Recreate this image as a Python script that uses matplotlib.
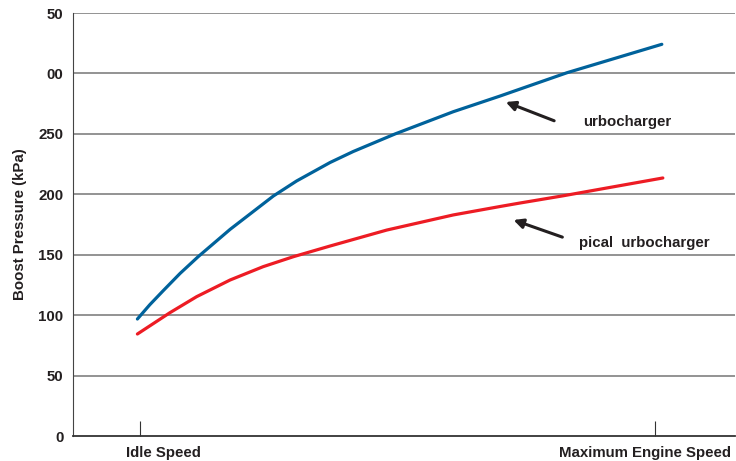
import numpy as np
import matplotlib.pyplot as plt
import matplotlib.transforms as mtransforms

plt.rcParams['font.family'] = ['Liberation Sans', 'DejaVu Sans']

# engine speed as fraction: 0 = idle, 1 = maximum engine speed
x_turbo = [-0.005, 0.019, 0.045, 0.078, 0.113, 0.175, 0.259, 0.304, 0.369, 0.414,
           0.495, 0.608, 0.699, 0.738, 0.829, 1.013]
y_turbo = [96.8, 108.6, 120.2, 134.6, 148.4, 171.0, 198.6, 211.0, 226.3, 235.4,
           249.9, 268.3, 281.3, 287.1, 300.6, 324.1]

x_typical = [-0.005, 0.058, 0.110, 0.175, 0.239, 0.298, 0.369, 0.479, 0.608, 0.699,
             0.738, 0.822, 1.015]
y_typical = [84.4, 102.0, 115.3, 129.1, 140.1, 148.4, 157.2, 170.4, 182.9, 189.9,
             192.8, 198.8, 213.5]

yticks = [0, 50, 100, 150, 200, 250, 300, 350]
ytick_labels = ['0', '50', '100', '150', '200', '250', '00', '50']
xticks = [0, 1]
xtick_labels = ['Idle Speed', 'Maximum Engine Speed']

txt = '#231f20'
fs = 10.8
fig = plt.figure(figsize=(7.36, 4.61), dpi=100)
ax = fig.add_axes([0.0992, 0.0542, 0.8994, 0.9176])

ax.set_xlim(-0.130, 1.155)
ax.set_ylim(0, 350)

# grid lines
for v in yticks[1:]:
    ax.axhline(v, color='#8a8a8a', lw=1.3, zorder=1)

ax.plot(x_turbo, y_turbo, color='#00629b', lw=2.3, solid_capstyle='round',
        solid_joinstyle='round', zorder=3)
ax.plot(x_typical, y_typical, color='#ed1c24', lw=2.3, solid_capstyle='round',
        solid_joinstyle='round', zorder=3)

# arrows and labels
ax.annotate('', xy=(0.705, 277.2), xytext=(0.809, 260.0),
            arrowprops=dict(arrowstyle='-|>', color=txt, lw=2.2, mutation_scale=14))
ax.annotate('', xy=(0.720, 179.5), xytext=(0.825, 163.8),
            arrowprops=dict(arrowstyle='-|>', color=txt, lw=2.2, mutation_scale=14))
ax.text(0.860, 260.0, 'urbocharger', fontsize=fs, fontweight='bold', color=txt,
        ha='left', va='center')
ax.text(0.852, 159.7, 'pical  urbocharger', fontsize=fs, fontweight='bold', color=txt,
        ha='left', va='center')

for s in ['top', 'right']:
    ax.spines[s].set_visible(False)
ax.spines['left'].set_color('#444444')
ax.spines['bottom'].set_color('#333333')
ax.spines['bottom'].set_linewidth(1.3)

ax.set_yticks(yticks)
ax.set_yticklabels(ytick_labels, fontsize=fs, fontweight='bold', color=txt)
ax.tick_params(axis='y', length=0, pad=7)

ax.set_xticks(xticks)
ax.set_xticklabels([])
ax.tick_params(axis='x', direction='in', length=11, width=0.8, color='#333333')

trans = mtransforms.blended_transform_factory(ax.transData, ax.transAxes)
ax.text(0.045, -0.04, xtick_labels[0], transform=trans, fontsize=fs, fontweight='bold',
        color=txt, ha='center', va='center')
ax.text(0.981, -0.04, xtick_labels[1], transform=trans, fontsize=fs, fontweight='bold',
        color=txt, ha='center', va='center')

ax.set_ylabel('Boost Pressure (kPa)', fontsize=fs, fontweight='bold', color=txt, labelpad=8)

fig.savefig('out.png', dpi=100)
